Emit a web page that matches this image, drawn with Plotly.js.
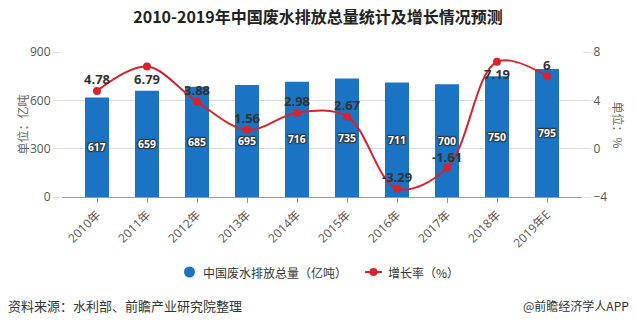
<!DOCTYPE html>
<html><head><meta charset="utf-8">
<script src="https://cdn.plot.ly/plotly-3.0.1.min.js"></script>
<style>html,body{margin:0;padding:0;background:#fff;}#chart{width:636px;height:325px;}</style>
</head><body><div id="chart"></div>
<script>
const categories = ['2010年','2011年','2012年','2013年','2014年','2015年','2016年','2017年','2018年','2019年E'];
const volume = [617, 659, 685, 695, 716, 735, 711, 700, 750, 795];
const growth = [4.78, 6.79, 3.88, 1.56, 2.98, 2.67, -3.29, -1.61, 7.19, 6];
const growthLabelBelow = [false, true, false, false, false, false, false, false, true, false];
const leftTicks = [0, 300, 600, 900];
const rightTicks = [-4, 0, 4, 8];
const seriesNames = ['中国废水排放总量（亿吨）', '增长率（%）'];

const FONT = '"Open Sans", "Noto Sans CJK SC", sans-serif';
const CJK = '"Noto Sans CJK SC", "Open Sans", sans-serif';
const BLUE = '#1a73c3';
const RED = '#d9222e';
const xIdx = categories.map((c, i) => i);

const traces = [
  {
    type: 'bar', x: xIdx, y: volume, width: 0.48, name: seriesNames[0],
    marker: {color: BLUE}, showlegend: false,
    text: volume.map(String), textposition: 'inside', insidetextanchor: 'middle',
    textangle: 0,
    textfont: {family: FONT, size: 13, color: '#fff', weight: 'bold',
      shadow: '1px 1px 1px #333, -1px -1px 1px #333, 1px -1px 1px #333, -1px 1px 1px #333'},
    hoverinfo: 'skip', cliponaxis: false
  },
  {
    type: 'scatter', x: xIdx, y: growth, yaxis: 'y2', mode: 'lines+markers',
    name: seriesNames[1], showlegend: false,
    line: {color: RED, width: 2, shape: 'spline', smoothing: 1},
    marker: {color: RED, size: 8},
    cliponaxis: false, hoverinfo: 'skip'
  }
];

// plot area: x 62..582, y 52..197
const px = v => (v - 62) / 520;
const py = v => (197 - v) / 145;

const growthLabels = growth.map((g, i) => ({
  text: String(g), x: xIdx[i], y: g, xref: 'x', yref: 'y2',
  xanchor: 'center', yanchor: 'middle', showarrow: false,
  yshift: growthLabelBelow[i] ? -12.5 : 11.5,
  font: {family: FONT, size: 13, color: '#333', weight: 'bold'}
}));

const layout = {
  width: 636, height: 325,
  margin: {l: 62, r: 54, t: 52, b: 128},
  paper_bgcolor: '#fff', plot_bgcolor: '#fff',
  font: {family: FONT, color: '#555', size: 12},
  title: {text: '2010-2019年中国废水排放总量统计及增长情况预测', x: 0.5, xanchor: 'center', y: 0.945, yanchor: 'middle',
    font: {family: CJK, size: 16, color: '#222', weight: 'bold'}},
  xaxis: {
    range: [-0.7, 9.7], tickvals: xIdx, ticktext: categories, tickangle: -45,
    showgrid: false, zeroline: false, showline: true, linecolor: '#999', linewidth: 1,
    ticks: 'outside', ticklen: 5, tickcolor: '#999',
    tickfont: {family: FONT, size: 12, color: '#555'}, fixedrange: true
  },
  yaxis: {
    range: [0, 900], tickvals: leftTicks, showgrid: true, gridcolor: '#ddd', gridwidth: 1,
    zeroline: false, showline: false, ticks: 'outside', ticklen: 8, tickcolor: '#ddd',
    tickfont: {family: FONT, size: 12, color: '#555'}, fixedrange: true
  },
  yaxis2: {
    range: [-4, 8], tickvals: rightTicks, overlaying: 'y', side: 'right',
    showgrid: false, zeroline: false, showline: false, ticks: 'outside', ticklen: 8, tickcolor: '#ddd',
    tickfont: {family: FONT, size: 12, color: '#555'}, fixedrange: true
  },
  showlegend: false,
  shapes: [
    {type: 'circle', xref: 'paper', yref: 'paper', x0: px(184), x1: px(195), y0: py(277.5), y1: py(266.5),
      fillcolor: BLUE, line: {width: 0}},
    {type: 'line', xref: 'paper', yref: 'paper', x0: px(365), x1: px(382), y0: py(272), y1: py(272),
      line: {color: RED, width: 2}},
    {type: 'circle', xref: 'paper', yref: 'paper', x0: px(369.5), x1: px(377.5), y0: py(276), y1: py(268),
      fillcolor: RED, line: {width: 0}}
  ],
  annotations: growthLabels.concat([
    {text: seriesNames[0], xref: 'paper', yref: 'paper', x: px(201), y: py(272), xanchor: 'left', yanchor: 'middle',
      showarrow: false, font: {family: CJK, size: 12, color: '#333'}},
    {text: seriesNames[1], xref: 'paper', yref: 'paper', x: px(386), y: py(272), xanchor: 'left', yanchor: 'middle',
      showarrow: false, font: {family: CJK, size: 12, color: '#333'}},
    {text: '单位：亿吨', xref: 'paper', yref: 'paper', x: px(22), y: 0.5, xanchor: 'center', yanchor: 'middle',
      textangle: -90, showarrow: false, font: {family: CJK, size: 12, color: '#666'}},
    {text: '单位：%', xref: 'paper', yref: 'paper', x: px(618), y: 0.5, xanchor: 'center', yanchor: 'middle',
      textangle: 90, showarrow: false, font: {family: CJK, size: 12, color: '#666'}},
    {text: '资料来源：水利部、前瞻产业研究院整理', xref: 'paper', yref: 'paper', x: px(6), y: py(305),
      xanchor: 'left', yanchor: 'middle', showarrow: false, font: {family: CJK, size: 13, color: '#333'}},
    {text: '@前瞻经济学人APP', xref: 'paper', yref: 'paper', x: px(631), y: py(305),
      xanchor: 'right', yanchor: 'middle', showarrow: false, font: {family: CJK, size: 12, color: '#333'}}
  ])
};

Plotly.newPlot('chart', traces, layout, {displayModeBar: false, staticPlot: true});
</script></body></html>
